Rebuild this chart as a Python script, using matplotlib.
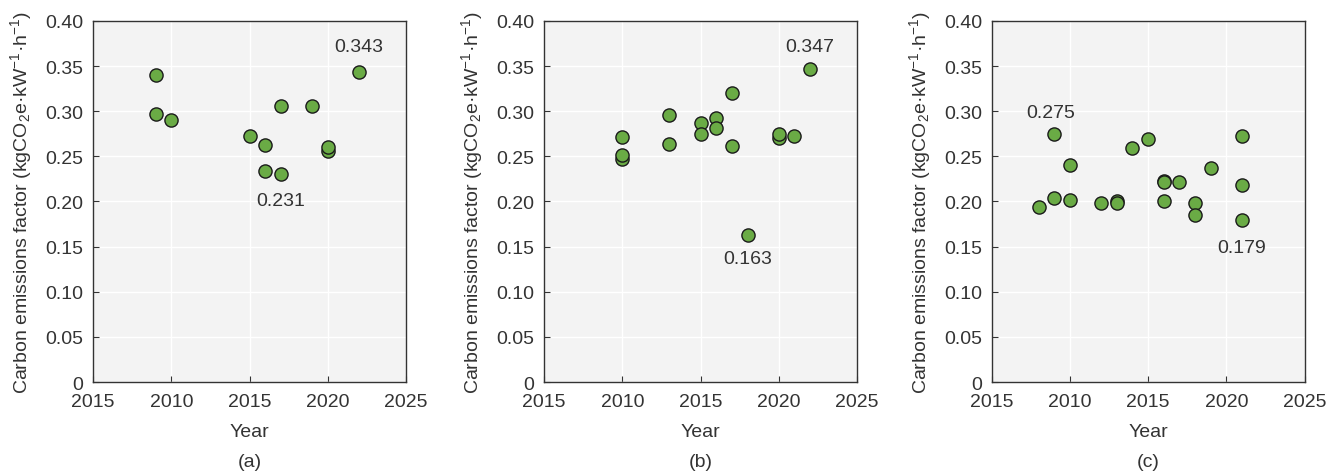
import numpy as np
import matplotlib
matplotlib.use("Agg")
import matplotlib.pyplot as plt

plt.rcParams['font.family'] = ['Liberation Sans', 'DejaVu Sans']
plt.rcParams['mathtext.default'] = 'regular'

# panel (a)
years_a = [2009, 2009, 2010, 2015, 2016, 2016, 2017, 2017, 2019, 2020, 2020, 2022]
vals_a = [0.340, 0.297, 0.290, 0.272, 0.263, 0.234, 0.231, 0.306, 0.306, 0.256, 0.260, 0.343]
# panel (b)
years_b = [2010, 2010, 2010, 2013, 2013, 2015, 2015, 2016, 2016, 2017, 2017, 2018,
           2020, 2020, 2021, 2022]
vals_b = [0.271, 0.247, 0.252, 0.296, 0.264, 0.287, 0.275, 0.292, 0.281, 0.320, 0.261,
          0.163, 0.270, 0.275, 0.272, 0.347]
# panel (c)
years_c = [2008, 2009, 2009, 2010, 2010, 2012, 2013, 2013, 2014, 2015, 2016, 2016,
           2016, 2017, 2018, 2018, 2019, 2021, 2021, 2021]
vals_c = [0.194, 0.275, 0.204, 0.240, 0.202, 0.198, 0.200, 0.198, 0.259, 0.269, 0.223,
          0.222, 0.201, 0.222, 0.198, 0.185, 0.237, 0.273, 0.218, 0.179]

# annotations: (text, x, y)
notes_a = [("0.343", 2022, 0.3715), ("0.231", 2017, 0.2007)]
notes_b = [("0.347", 2022, 0.3715), ("0.163", 2018, 0.137)]
notes_c = [("0.275", 2008.8, 0.299), ("0.179", 2021, 0.149)]

xticks = [2005, 2010, 2015, 2020, 2025]
xtick_labels = ["2015", "2010", "2015", "2020", "2025"]
yticks = [0, 0.05, 0.10, 0.15, 0.20, 0.25, 0.30, 0.35, 0.40]
ytick_labels = ["0", "0.05", "0.10", "0.15", "0.20", "0.25", "0.30", "0.35", "0.40"]

panels = [(years_a, vals_a, notes_a, "(a)", 0.0694),
          (years_b, vals_b, notes_b, "(b)", 0.406),
          (years_c, vals_c, notes_c, "(c)", 0.740)]

text_col = '#333333'
fig = plt.figure(figsize=(13.4, 4.77), dpi=100)

for xs, ys, notes, tag, left in panels:
    ax = fig.add_axes([left, 0.197, 0.2336, 0.757])
    ax.set_facecolor('#f3f3f3')
    ax.grid(True, color='white', linewidth=1.0)
    ax.set_axisbelow(True)
    ax.scatter(xs, ys, s=90, color='#6aab45', edgecolor='#1a1a1a', linewidth=1.0, zorder=3)
    for t, x, y in notes:
        ax.text(x, y, t, ha='center', va='center', fontsize=14, color=text_col)
    ax.set_xlim(2005, 2025)
    ax.set_ylim(0, 0.40)
    ax.set_xticks(xticks)
    ax.set_xticklabels(xtick_labels)
    ax.set_yticks(yticks)
    ax.set_yticklabels(ytick_labels)
    ax.tick_params(direction='in', length=4, width=0.8, color='#333333',
                   labelsize=14, labelcolor=text_col)
    ax.tick_params(axis='x', pad=8)
    ax.tick_params(axis='y', pad=7)
    for sp in ax.spines.values():
        sp.set_color('#333333')
        sp.set_linewidth(1.0)
    ax.set_xlabel('Year', fontsize=14, color=text_col, labelpad=9)
    ax.set_ylabel('Carbon emissions factor (kgCO$_2$e·kW$^{-1}$·h$^{-1}$)',
                  fontsize=14, color=text_col, labelpad=8)
    ax.text(0.5, -0.22, tag, transform=ax.transAxes, ha='center', va='center',
            fontsize=14, color=text_col)

fig.savefig("out.png", dpi=100)
